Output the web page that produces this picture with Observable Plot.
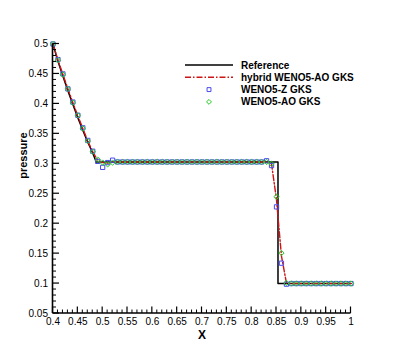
<!DOCTYPE html>
<html><head><meta charset="utf-8">
<script src="https://cdn.jsdelivr.net/npm/d3@7"></script>
<script src="https://cdn.jsdelivr.net/npm/@observablehq/plot@0.6"></script>
<style>
body{margin:0;background:#fff}
#chart{width:399px;height:355px}
#chart svg{font-family:'Liberation Sans', Arial, Helvetica, sans-serif;font-size:10px}
</style>
</head><body><div id="chart"></div>
<script>
// Exact (reference) solution
const refX = [0.40,0.41,0.42,0.43,0.44,0.45,0.46,0.47,0.48,0.487,0.853,0.853,1.00];
const refP = [0.500,0.471,0.446,0.422,0.399,0.377,0.356,0.336,0.318,0.303,0.303,0.100,0.100];

// numerical grid
const gridX = [0.40,0.41,0.42,0.43,0.44,0.45,0.46,0.47,0.48,0.49,
  0.50,0.51,0.52,0.53,0.54,0.55,0.56,0.57,0.58,0.59,
  0.60,0.61,0.62,0.63,0.64,0.65,0.66,0.67,0.68,0.69,
  0.70,0.71,0.72,0.73,0.74,0.75,0.76,0.77,0.78,0.79,
  0.80,0.81,0.82,0.83,0.84,0.85,0.86,0.87,0.88,0.89,
  0.90,0.91,0.92,0.93,0.94,0.95,0.96,0.97,0.98,0.99,1.00];

const hybridP = [0.500,0.473,0.449,0.425,0.402,0.380,0.359,0.338,0.320,0.306,
  0.302,0.301,0.303,0.303,0.303,0.303,0.303,0.303,0.303,0.303,
  0.303,0.303,0.303,0.303,0.303,0.303,0.303,0.303,0.303,0.303,
  0.303,0.303,0.303,0.303,0.303,0.303,0.303,0.303,0.303,0.303,
  0.303,0.303,0.303,0.303,0.300,0.240,0.146,0.101,0.100,0.100,
  0.100,0.100,0.100,0.100,0.100,0.100,0.100,0.100,0.100,0.100,0.100];

const wenoZP = [0.500,0.474,0.450,0.425,0.403,0.381,0.360,0.339,0.321,0.304,
  0.294,0.302,0.306,0.303,0.303,0.303,0.303,0.303,0.303,0.303,
  0.303,0.303,0.303,0.303,0.303,0.303,0.303,0.303,0.303,0.303,
  0.303,0.303,0.303,0.303,0.303,0.303,0.303,0.303,0.303,0.303,
  0.303,0.303,0.303,0.305,0.297,0.228,0.134,0.099,0.100,0.100,
  0.100,0.100,0.100,0.100,0.100,0.100,0.100,0.100,0.100,0.100,0.100];

const wenoAOP = [0.500,0.473,0.449,0.425,0.402,0.381,0.359,0.338,0.320,0.307,
  0.302,0.299,0.302,0.303,0.303,0.303,0.303,0.303,0.303,0.303,
  0.303,0.303,0.303,0.303,0.303,0.303,0.303,0.303,0.303,0.303,
  0.303,0.303,0.303,0.303,0.303,0.303,0.303,0.303,0.303,0.303,
  0.303,0.303,0.303,0.303,0.300,0.245,0.151,0.101,0.100,0.100,
  0.100,0.100,0.100,0.100,0.100,0.100,0.100,0.100,0.100,0.100,0.100];

const xMajor = [0.4,0.45,0.5,0.55,0.6,0.65,0.7,0.75,0.8,0.85,0.9,0.95,1];
const yMajor = [0.05,0.1,0.15,0.2,0.25,0.3,0.35,0.4,0.45,0.5];
const xMinor = [0.41,0.42,0.43,0.44,0.46,0.47,0.48,0.49,0.51,0.52,0.53,0.54,0.56,0.57,0.58,0.59,
  0.61,0.62,0.63,0.64,0.66,0.67,0.68,0.69,0.71,0.72,0.73,0.74,0.76,0.77,0.78,0.79,
  0.81,0.82,0.83,0.84,0.86,0.87,0.88,0.89,0.91,0.92,0.93,0.94,0.96,0.97,0.98,0.99];
const yMinor = [0.06,0.07,0.08,0.09,0.11,0.12,0.13,0.14,0.16,0.17,0.18,0.19,0.21,0.22,0.23,0.24,
  0.26,0.27,0.28,0.29,0.31,0.32,0.33,0.34,0.36,0.37,0.38,0.39,0.41,0.42,0.43,0.44,0.46,0.47,0.48,0.49];

const seriesNames = ["Reference","hybrid WENO5-AO GKS","WENO5-Z GKS","WENO5-AO GKS"];
const seriesColors = ["#000000","#cc1414","#4848f0","#22cc22"];
const xTitle = "X";
const yTitle = "pressure";

const ref = refX.map((x,i)=>({x, p: refP[i]}));
const hyb = gridX.map((x,i)=>({x, p: hybridP[i]}));
const wz = gridX.map((x,i)=>({x, p: wenoZP[i]}));
const wao = gridX.map((x,i)=>({x, p: wenoAOP[i]}));

const fmt = d => String(+(+d).toFixed(2));
const font = "'Liberation Sans', Arial, Helvetica, sans-serif";
const dashDot = "6,2,1.5,2";
const x0 = 0.4, y0 = 0.05;

const chart = Plot.plot({
  width: 399, height: 355,
  marginLeft: 52.5, marginRight: 48.5, marginTop: 43.5, marginBottom: 42,
  x: {domain: [x0, 1]},
  y: {domain: [y0, 0.5]},
  marks: [
    Plot.axisX({ticks: xMajor, tickSize: 0, tickPadding: 4, tickFormat: fmt, label: null}),
    Plot.axisY({ticks: yMajor, tickSize: 0, tickPadding: 5, tickFormat: fmt, label: null}),
    Plot.text([xTitle], {frameAnchor: "bottom", dy: 25, fontWeight: "bold", fontSize: 12}),
    Plot.text([yTitle], {frameAnchor: "left", dx: -30, rotate: -90, fontWeight: "bold", fontSize: 11}),
    Plot.line(ref, {x: "x", y: "p", stroke: seriesColors[0], strokeWidth: 1.5}),
    Plot.line(hyb, {x: "x", y: "p", stroke: seriesColors[1], strokeWidth: 1.4, strokeDasharray: dashDot}),
    Plot.dot(wz, {x: "x", y: "p", symbol: "square", r: 2.4, stroke: seriesColors[2], strokeWidth: 1, fill: "none"}),
    Plot.dot(wao, {x: "x", y: "p", symbol: "diamond2", r: 2.4, stroke: seriesColors[3], strokeWidth: 1, fill: "none"})
  ]
});

// axis frame with inward major/minor ticks, placed through the plot's own scales
const sx = chart.scale("x"), sy = chart.scale("y");
const svg = d3.select(chart);
const ax = svg.append("g").attr("stroke", "#000").attr("fill", "none");
const px0 = sx.apply(x0), py0 = sy.apply(y0);
xMinor.forEach(v => ax.append("line").attr("x1", sx.apply(v)).attr("x2", sx.apply(v)).attr("y1", py0).attr("y2", py0 - 3.5).attr("stroke-width", 1));
xMajor.forEach(v => ax.append("line").attr("x1", sx.apply(v)).attr("x2", sx.apply(v)).attr("y1", py0).attr("y2", py0 - 6.5).attr("stroke-width", 1.2));
yMinor.forEach(v => ax.append("line").attr("y1", sy.apply(v)).attr("y2", sy.apply(v)).attr("x1", px0).attr("x2", px0 + 3.5).attr("stroke-width", 1));
yMajor.forEach(v => ax.append("line").attr("y1", sy.apply(v)).attr("y2", sy.apply(v)).attr("x1", px0).attr("x2", px0 + 6.5).attr("stroke-width", 1.2));
ax.append("line").attr("x1", px0).attr("x2", px0).attr("y1", sy.apply(0.5)).attr("y2", py0).attr("stroke-width", 1.6);
ax.append("line").attr("x1", px0).attr("x2", sx.apply(1)).attr("y1", py0).attr("y2", py0).attr("stroke-width", 1.6);

// legend drawn inside the plot svg
const lg = svg.append("g").attr("font-family", font).attr("font-size", 10).attr("font-weight", "bold").attr("text-anchor", "start");
const lx0 = 185, lx1 = 233, ltx = 241, ly0 = 65, ldy = 12.3;
seriesNames.forEach((name, i) => {
  const y = ly0 + i * ldy;
  if (i === 0) lg.append("line").attr("x1", lx0).attr("x2", lx1).attr("y1", y).attr("y2", y).attr("stroke", seriesColors[0]).attr("stroke-width", 1.5);
  if (i === 1) lg.append("line").attr("x1", lx0).attr("x2", lx1).attr("y1", y).attr("y2", y).attr("stroke", seriesColors[1]).attr("stroke-width", 1.4).attr("stroke-dasharray", dashDot);
  if (i === 2) lg.append("path").attr("d", d3.symbol(d3.symbolSquare, 2.2*2.2*Math.PI)()).attr("transform", `translate(${(lx0+lx1)/2},${y})`).attr("fill", "none").attr("stroke", seriesColors[2]);
  if (i === 3) lg.append("path").attr("d", d3.symbol(d3.symbolDiamond2, 2.2*2.2*Math.PI)()).attr("transform", `translate(${(lx0+lx1)/2},${y})`).attr("fill", "none").attr("stroke", seriesColors[3]);
  lg.append("text").attr("x", ltx).attr("y", y).attr("dy", "0.35em").attr("text-anchor", "start").text(name);
});

document.getElementById("chart").appendChild(chart);
</script>
</body></html>
